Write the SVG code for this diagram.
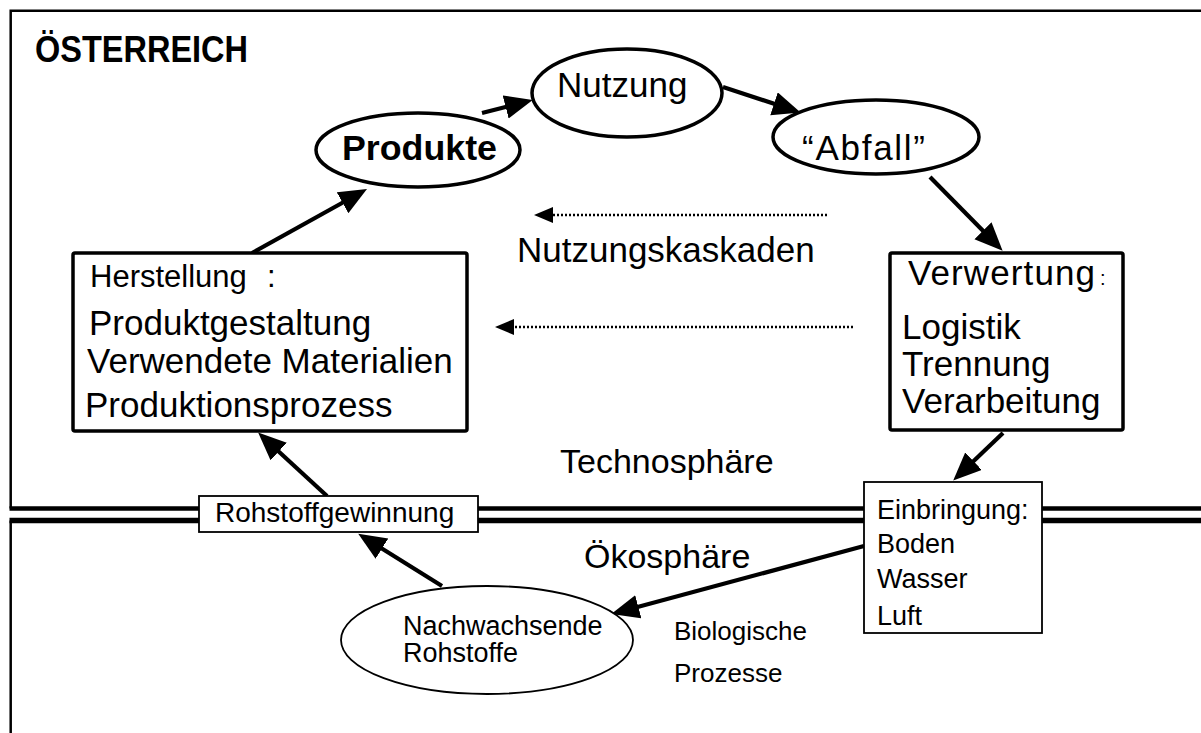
<svg xmlns="http://www.w3.org/2000/svg" width="1201" height="733" viewBox="0 0 1201 733">
<style>
text{font-family:"Liberation Sans",Arial,sans-serif;fill:#000}
.big{font-size:35px}
.mid{font-size:27px}
.sm{font-size:26px}
.bold{font-weight:bold}
.box{fill:#fff;stroke:#000;stroke-width:3.5}
.thin{fill:#fff;stroke:#000;stroke-width:1.8}
.ell{fill:#fff;stroke:#000;stroke-width:3.5}
.arr{stroke:#000;stroke-width:4.2;fill:none;marker-end:url(#ah)}
.dot{stroke:#000;stroke-width:2.5;stroke-dasharray:2 2;fill:none;marker-end:url(#dh)}
</style>
<defs>
<marker id="ah" markerUnits="userSpaceOnUse" markerWidth="30" markerHeight="26" refX="20" refY="12" orient="auto">
<path d="M0,0 L28,12 L0,24 z" fill="#000"/>
</marker>
<marker id="dh" markerUnits="userSpaceOnUse" markerWidth="22" markerHeight="18" refX="2" refY="8" orient="auto">
<path d="M0,0 L19,8 L0,16 z" fill="#000"/>
</marker>
</defs>
<rect width="1201" height="733" fill="#fff"/>
<g id="frame" fill="none" stroke="#000">
<path d="M10.7,508.5 V10.7 H1201" stroke-width="2.5"/>
<path d="M10.7,733 V520.5" stroke-width="2.5"/>
<path d="M9.5,508.5 H1201" stroke-width="4.5"/>
<path d="M9.5,520.5 H1201" stroke-width="5.5"/>
</g>
<text class="bold" x="35" y="62" font-size="37" textLength="213" lengthAdjust="spacingAndGlyphs">ÖSTERREICH</text>
<text x="560" y="473" font-size="34">Technosphäre</text>
<text x="584" y="568" font-size="34">Ökosphäre</text>
<g id="connectors">
<line class="arr" x1="252" y1="253" x2="360" y2="193"/>
<line class="arr" x1="482" y1="113" x2="525" y2="102"/>
<line class="arr" x1="723" y1="87" x2="793" y2="110"/>
<line class="arr" x1="930" y1="177" x2="997" y2="245"/>
<line class="arr" x1="1003" y1="433" x2="959" y2="475"/>
<line class="arr" x1="864" y1="546" x2="619" y2="612"/>
<line class="arr" x1="442" y1="586" x2="365" y2="538"/>
<line class="arr" x1="327" y1="496" x2="264" y2="438"/>
<line class="dot" x1="827" y1="215" x2="551" y2="215"/>
<line class="dot" x1="853" y1="327" x2="512" y2="327"/>
</g>
<text class="big" x="517" y="262">Nutzungskaskaden</text>
<g id="produkte">
<ellipse class="ell" cx="418" cy="150" rx="102" ry="37"/>
<text class="big bold" x="342" y="160" textLength="155" lengthAdjust="spacingAndGlyphs">Produkte</text>
</g>
<g id="nutzung">
<ellipse class="ell" cx="627" cy="93" rx="95" ry="44"/>
<text class="big" x="557" y="97">Nutzung</text>
</g>
<g id="abfall">
<ellipse class="ell" cx="876" cy="137" rx="103" ry="37"/>
<text class="big" x="802" y="160" textLength="123" lengthAdjust="spacing">“Abfall”</text>
</g>
<g id="herstellung">
<rect class="box" x="73" y="253" width="394" height="178" rx="2"/>
<text x="90" y="287" font-size="31">Herstellung</text>
<text x="267" y="287" font-size="31">:</text>
<text class="big" x="89" y="335">Produktgestaltung</text>
<text class="big" x="87" y="373">Verwendete Materialien</text>
<text class="big" x="85" y="417">Produktionsprozess</text>
</g>
<g id="verwertung">
<rect class="box" x="890" y="253" width="233" height="177" rx="2"/>
<text class="big" x="908" y="285" textLength="187" lengthAdjust="spacing">Verwertung</text>
<text x="1100" y="285" font-size="20">:</text>
<text class="big" x="902" y="339">Logistik</text>
<text class="big" x="902" y="376">Trennung</text>
<text class="big" x="902" y="413">Verarbeitung</text>
</g>
<g id="rohstoffgewinnung">
<rect class="thin" x="199" y="496" width="279" height="36"/>
<text x="215" y="522" font-size="28">Rohstoffgewinnung</text>
</g>
<g id="einbringung">
<rect class="thin" x="864" y="482" width="178" height="151"/>
<text class="mid" x="877" y="519">Einbringung:</text>
<text class="mid" x="877" y="553">Boden</text>
<text class="mid" x="877" y="588">Wasser</text>
<text class="mid" x="877" y="625">Luft</text>
</g>
<g id="nachwachsende">
<ellipse class="thin" cx="487" cy="640" rx="146" ry="54"/>
<text x="403" y="635" font-size="27">Nachwachsende</text>
<text x="403" y="662" font-size="27">Rohstoffe</text>
</g>
<g id="biologische">
<text class="sm" x="674" y="640">Biologische</text>
<text class="sm" x="674" y="682">Prozesse</text>
</g>
</svg>
